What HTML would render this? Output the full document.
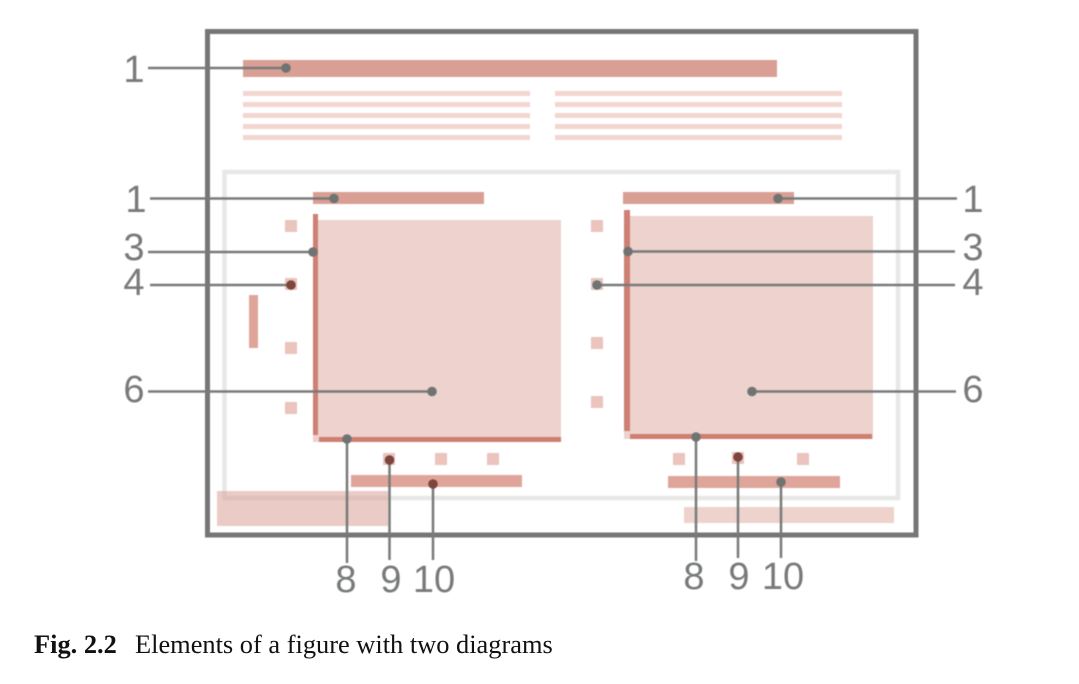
<!DOCTYPE html>
<html><head><meta charset="utf-8"><style>html,body{margin:0;padding:0;background:#fff}svg{display:block}.b{filter:blur(.45px)}</style></head><body>
<svg width="1079" height="684" viewBox="0 0 1079 684" xmlns="http://www.w3.org/2000/svg">
<rect width="1079" height="684" fill="#fff"/>
<g class="b">
<rect x="224.5" y="172" width="673.5" height="326" fill="none" stroke="#e8e8e6" stroke-width="4.5"/>
<rect x="217" y="491" width="171" height="35" fill="#d9a096" fill-opacity=".55"/>
<rect x="684" y="507" width="210" height="16" fill="#eed2cc"/>
<rect x="207.5" y="31.5" width="708.5" height="503.5" fill="none" stroke="#767676" stroke-width="5"/>
<rect x="243" y="60" width="534" height="17" fill="#d99f94"/>
<g fill="#f3d6d0">
<rect x="243" y="91" width="287" height="5"/><rect x="243" y="102" width="287" height="5"/><rect x="243" y="113" width="287" height="5"/><rect x="243" y="124" width="287" height="5"/><rect x="243" y="135" width="287" height="5"/>
<rect x="555" y="91" width="287" height="5"/><rect x="555" y="102" width="287" height="5"/><rect x="555" y="113" width="287" height="5"/><rect x="555" y="124" width="287" height="5"/><rect x="555" y="135" width="287" height="5"/>
</g>
<rect x="313" y="192" width="171" height="12" fill="#d99f94"/>
<rect x="623" y="192" width="171" height="12" fill="#d99f94"/>
<rect x="313" y="220" width="248" height="222" fill="#edd2cd"/>
<rect x="624" y="216" width="249" height="223" fill="#edd2cd"/>
<rect x="313" y="214" width="5" height="221" fill="#cd8073"/>
<rect x="319" y="437" width="242" height="5" fill="#cf7f70"/>
<rect x="624" y="210" width="6" height="221" fill="#cd8073"/>
<rect x="630" y="434" width="242" height="5" fill="#cf7f70"/>
<rect x="249" y="295" width="9" height="53" fill="#dfa59a"/>
<g fill="#eac4bd">
<rect x="285" y="220" width="12" height="12"/><rect x="285" y="278" width="12" height="12"/><rect x="285" y="342" width="12" height="12"/><rect x="285" y="402" width="12" height="12"/>
<rect x="591" y="220" width="12" height="12"/><rect x="591" y="278" width="12" height="12"/><rect x="591" y="337" width="12" height="12"/><rect x="591" y="396" width="12" height="12"/>
<rect x="383" y="453" width="12" height="12"/><rect x="435" y="453" width="12" height="12"/><rect x="487" y="453" width="12" height="12"/>
<rect x="673" y="453" width="12" height="12"/><rect x="732" y="452" width="12" height="12"/><rect x="797" y="453" width="12" height="12"/>
</g>
<rect x="351" y="475" width="171" height="12" fill="#dfa59a"/>
<rect x="668" y="476" width="172" height="12" fill="#dfa59a"/>
<g stroke="#787a79" stroke-width="2.500" fill="none">
<path d="M148 68H286M150 198.500H334M148 252H313M150 285H291M148 391.500H432"/>
<path d="M778 198.500H957M628 251.500H955M597 285H955M752 391.500H956"/>
<path d="M347 439V563M389.500 460V560M433 484V560M696 437V561M738 457V558M781 482V558"/>
</g>
<g fill="#6f7472">
<circle cx="286" cy="68" r="4.8"/><circle cx="334" cy="198.500" r="4.8"/><circle cx="313" cy="252" r="4.8"/><circle cx="432" cy="391.500" r="4.800"/><circle cx="778" cy="198.500" r="4.8"/><circle cx="628" cy="251.500" r="4.8"/><circle cx="597" cy="285" r="4.8"/><circle cx="752" cy="391.500" r="4.8"/><circle cx="347" cy="439" r="4.8"/><circle cx="696" cy="437" r="4.8"/><circle cx="781" cy="482" r="4.8"/>
</g>
<g fill="#7d453c">
<circle cx="291" cy="285" r="4.8"/><circle cx="389.500" cy="460" r="4.8"/><circle cx="433" cy="484" r="4.8"/><circle cx="738" cy="457" r="4.8"/>
</g>
<g font-family="'Liberation Sans',sans-serif" font-size="38" fill="#787a79" text-anchor="middle">
<text x="134" y="82">1</text><text x="136" y="212">1</text><text x="134" y="260">3</text><text x="134" y="295">4</text><text x="134" y="402">6</text>
<text x="973" y="212">1</text><text x="973" y="260">3</text><text x="973" y="295">4</text><text x="973" y="402">6</text>
<text x="346" y="592">8</text><text x="391" y="592">9</text><text x="434" y="592">10</text>
<text x="694" y="589">8</text><text x="739" y="589">9</text><text x="783" y="589">10</text>
</g>
</g>
<g font-family="'Liberation Serif',serif" font-size="26.400" fill="#111">
<text x="34" y="653" font-weight="bold">Fig. 2.2</text>
<text x="135" y="653">Elements of a figure with two diagrams</text>
</g>
</svg>
</body></html>
